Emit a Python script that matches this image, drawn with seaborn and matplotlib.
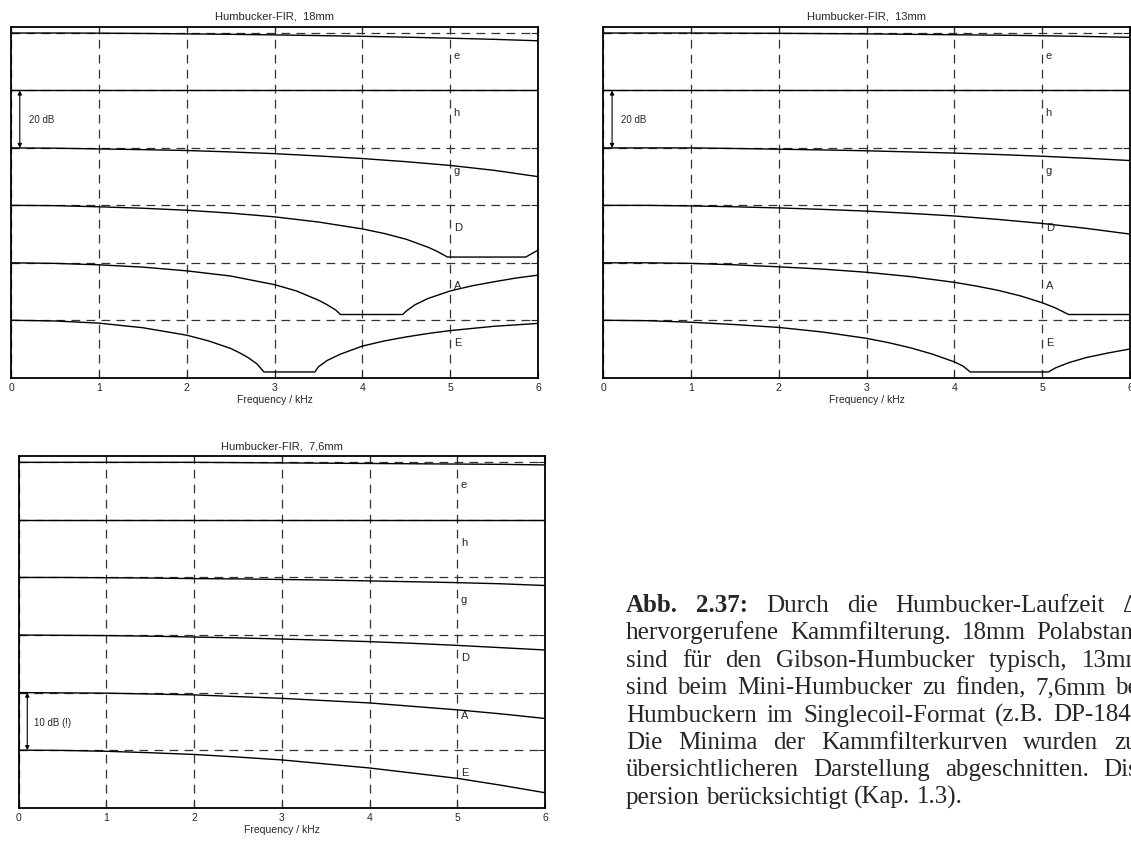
import matplotlib
matplotlib.use("Agg")
import pandas as pd
import matplotlib.pyplot as plt
import seaborn as sns

# strings from top to bottom of every panel
strings = ["e", "h", "g", "D", "A", "E"]
freq_grid = [0, 0.5, 1, 1.5, 2, 2.5, 3, 3.5, 4, 4.5, 5, 5.5, 6]

# 18 mm pole spacing (dB, relative to each string's 0 dB line)
e_18 = [0, 0, -0.05, -0.15, -0.3, -0.45, -0.65, -0.9, -1.15, -1.45, -1.8, -2.2, -2.7]
h_18 = [0, 0, 0, 0, 0, 0, 0, 0, 0, 0, 0, 0, 0]
g_18 = [0, -0.1, -0.35, -0.6, -0.9, -1.4, -2.0, -2.8, -3.7, -4.8, -6.1, -7.8, -10.0]
D_18_f = [0, 0.5, 1, 1.5, 2, 2.5, 3, 3.5, 3.75, 4, 4.25, 4.5, 4.75, 4.85, 4.97, 5.86, 6.0]
D_18 = [0, -0.1, -0.5, -1.0, -1.7, -2.7, -4.0, -5.8, -7.0, -8.2, -9.8, -11.8, -14.6, -16.0, -18, -18, -15.6]
A_18_f = [0, 0.5, 1, 1.5, 2, 2.5, 3, 3.25, 3.5, 3.6, 3.7, 3.75, 4.46, 4.5, 4.6, 4.75,
          5.0, 5.25, 5.5, 5.75, 6.0]
A_18 = [0, -0.2, -0.7, -1.5, -2.8, -4.6, -7.6, -9.8, -13.0, -14.6, -16.5, -18, -18, -16.8,
        -14.6, -12.4, -9.8, -8.0, -6.6, -5.3, -4.3]
E_18_f = [0, 0.5, 1, 1.5, 2, 2.25, 2.5, 2.6, 2.7, 2.8, 2.88, 3.46, 3.5, 3.6, 3.75, 4.0,
          4.25, 4.5, 4.75, 5.0, 5.5, 6.0]
E_18 = [0, -0.25, -1.0, -2.6, -5.2, -7.2, -9.8, -11.3, -13.0, -15.2, -18, -18, -16.2, -14.0,
        -11.8, -9.0, -7.2, -5.8, -4.6, -3.6, -2.1, -1.1]

# 13 mm pole spacing
e_13 = [0, 0, 0, -0.05, -0.1, -0.2, -0.3, -0.45, -0.6, -0.75, -0.95, -1.2, -1.5]
h_13 = [0, 0, 0, 0, 0, 0, 0, 0, 0, 0, 0, 0, 0]
g_13 = [0, 0, 0, -0.2, -0.45, -0.7, -1.0, -1.4, -1.8, -2.3, -2.9, -3.6, -4.4]
D_13 = [0, 0, -0.2, -0.5, -0.9, -1.4, -2.0, -2.8, -3.7, -4.9, -6.3, -8.0, -10.0]
A_13_f = [0, 0.5, 1, 1.5, 2, 2.5, 3, 3.5, 4, 4.25, 4.5, 4.75, 5.0, 5.15, 5.3, 6.0]
A_13 = [0, 0, -0.2, -0.7, -1.4, -2.2, -3.3, -4.8, -6.8, -8.1, -9.6, -11.5, -13.9, -15.7, -18, -18]
E_13_f = [0, 0.5, 1, 1.5, 2, 2.5, 3, 3.25, 3.5, 3.75, 4.0, 4.1, 4.18, 5.07, 5.15, 5.3,
          5.5, 5.75, 6.0]
E_13 = [0, -0.15, -0.7, -1.5, -2.5, -4.1, -6.3, -7.8, -9.6, -11.8, -14.5, -16.0, -18, -18,
        -16.6, -14.8, -13.0, -11.4, -10.0]

# 7,6 mm pole spacing
e_76 = [0, 0, 0, 0, 0, -0.05, -0.1, -0.15, -0.2, -0.25, -0.3, -0.35, -0.45]
h_76 = [0, 0, 0, 0, 0, 0, 0, 0, 0, 0, 0, 0, 0]
g_76 = [0, 0, -0.05, -0.1, -0.2, -0.25, -0.35, -0.45, -0.6, -0.75, -0.9, -1.1, -1.4]
D_76 = [0, -0.05, -0.1, -0.2, -0.35, -0.5, -0.7, -0.9, -1.15, -1.45, -1.8, -2.2, -2.6]
A_76 = [0, -0.05, -0.1, -0.25, -0.4, -0.7, -1.0, -1.4, -1.8, -2.4, -3.0, -3.7, -4.5]
E_76 = [0, -0.05, -0.2, -0.45, -0.75, -1.2, -1.7, -2.4, -3.1, -4.0, -4.9, -6.1, -7.4]

titles = ["Humbucker-FIR,  18mm", "Humbucker-FIR,  13mm", "Humbucker-FIR,  7,6mm"]
steps = [20, 20, 10]
scale_text = ["20 dB", "20 dB", "10 dB (!)"]

curves = [
    [(freq_grid, e_18), (freq_grid, h_18), (freq_grid, g_18),
     (D_18_f, D_18), (A_18_f, A_18), (E_18_f, E_18)],
    [(freq_grid, e_13), (freq_grid, h_13), (freq_grid, g_13),
     (freq_grid, D_13), (A_13_f, A_13), (E_13_f, E_13)],
    [(freq_grid, e_76), (freq_grid, h_76), (freq_grid, g_76),
     (freq_grid, D_76), (freq_grid, A_76), (freq_grid, E_76)],
]

rows = []
for p, panel in enumerate(curves):
    for i, (fr, db) in enumerate(panel):
        offset = (5 - i) * steps[p]
        for f, v in zip(fr, db):
            rows.append({"panel": p, "string": strings[i], "freq": f, "level": v + offset})
df = pd.DataFrame(rows)

sns.set_style("ticks")
plt.rcParams["font.family"] = ["Liberation Sans", "DejaVu Sans"]

W, H = 1131, 841
fig = plt.figure(figsize=(W / 100, H / 100), dpi=100)

# axes boxes in pixels: left, top, right, bottom
boxes = [(11, 26.7, 538, 377.7), (603.3, 26.7, 1130, 377.7), (18.5, 456, 545, 807.7)]

for p in range(3):
    l, t, r, b = boxes[p]
    ax = fig.add_axes([l / W, 1 - b / H, (r - l) / W, (b - t) / H])
    step = steps[p]
    refs = [(5 - i) * step for i in range(6)]
    ax.set_axisbelow(True)
    ax.grid(True, color="#333333", lw=0.9, ls=(0, (7, 5)))
    sns.lineplot(data=df[df.panel == p], x="freq", y="level", units="string",
                 estimator=None, sort=False, color="black", lw=1.0, ax=ax)
    ax.set_xlim(0, 6)
    ax.set_ylim(-step, 5 * step + 0.11 * step)
    ax.set_xticks(range(7))
    ax.set_yticks(refs)
    ax.tick_params(axis="x", direction="in", length=5, width=0.8, top=True, bottom=True,
                   labelsize=7.5, pad=4)
    ax.tick_params(axis="y", direction="in", length=5, width=0.8, left=True, right=True,
                   labelleft=False)
    for s in ax.spines.values():
        s.set_linewidth(1.3)
        s.set_color("black")
    ax.set_xlabel("Frequency / kHz", fontsize=7.5, labelpad=1)
    ax.set_ylabel("")
    ax.set_title(titles[p], fontsize=8, pad=5)

    for i, name in enumerate(strings):
        ax.text(5.04, refs[i] - 0.4 * step, name, fontsize=8, va="center", ha="left")

    # level scale arrow
    if p < 2:
        top_ref, bot_ref, tx = refs[1], refs[2], 0.2
    else:
        top_ref, bot_ref, tx = refs[4], refs[5], 0.18
    ax.annotate("", xy=(0.1, top_ref), xytext=(0.1, bot_ref),
                arrowprops=dict(arrowstyle="<|-|>", color="black", lw=0.8,
                                shrinkA=0, shrinkB=0, mutation_scale=6))
    ax.text(tx, (top_ref + bot_ref) / 2 - 0.02 * step, scale_text[p], fontsize=7,
            va="center", ha="left")

# caption, justified like the source page (runs off the right edge there too)
caption_lines = [
    ["Abb.", "2.37:", "Durch", "die", "Humbucker-Laufzeit", "Δt"],
    ["hervorgerufene", "Kammfilterung.", "18mm", "Polabstand"],
    ["sind", "für", "den", "Gibson-Humbucker", "typisch,", "13mm"],
    ["sind", "beim", "Mini-Humbucker", "zu", "finden,", "7,6mm", "bei"],
    ["Humbuckern", "im", "Singlecoil-Format", "(z.B.", "DP-184)."],
    ["Die", "Minima", "der", "Kammfilterkurven", "wurden", "zur"],
    ["übersichtlicheren", "Darstellung", "abgeschnitten.", "Dis-"],
    ["persion", "berücksichtigt", "(Kap.", "1.3)."],
]
cap_left, cap_right = 626, 1146
cap_y0, cap_dy = 612, 27.4
cap_fs = 18
serif = ["Liberation Serif", "DejaVu Serif"]

renderer = fig.canvas.get_renderer()
probe_a = fig.text(0, 0, "a a", fontsize=cap_fs, family=serif)
probe_b = fig.text(0, 0, "aa", fontsize=cap_fs, family=serif)
space_w = probe_a.get_window_extent(renderer).width - probe_b.get_window_extent(renderer).width
probe_a.remove()
probe_b.remove()

for k, words in enumerate(caption_lines):
    y = 1 - (cap_y0 + k * cap_dy) / H
    texts = []
    for j, w in enumerate(words):
        bold = (k == 0 and j < 2)
        texts.append(fig.text(0, y, w, fontsize=cap_fs, family=serif, va="baseline",
                              ha="left", weight="bold" if bold else "normal"))
    widths = [t.get_window_extent(renderer).width for t in texts]
    if k == len(caption_lines) - 1:
        gap = space_w
    else:
        gap = (cap_right - cap_left - sum(widths)) / (len(words) - 1)
    x = cap_left
    for t, w in zip(texts, widths):
        t.set_x(x / W)
        x += w + gap

fig.savefig("out.png", dpi=100)
